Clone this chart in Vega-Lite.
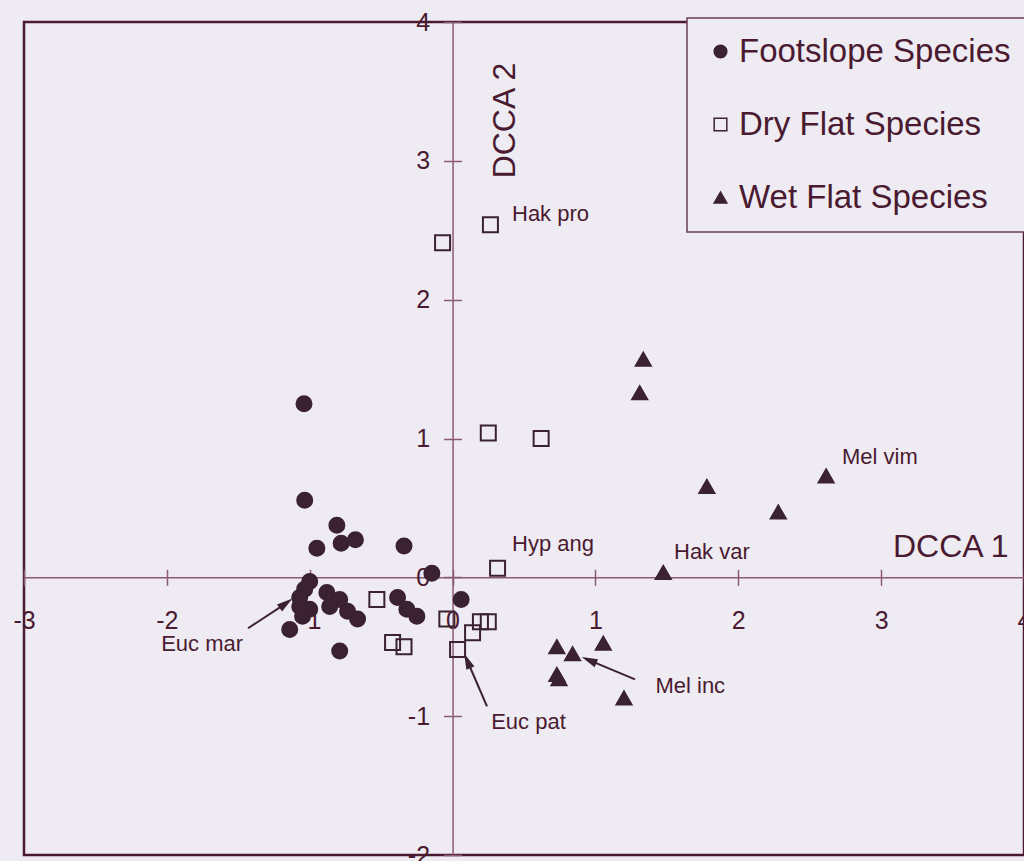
{
  "$schema": "https://vega.github.io/schema/vega-lite/v6.json",
  "width": 1000,
  "height": 833,
  "autosize": {"type": "none"},
  "padding": {"left": 24, "top": 22, "right": 0, "bottom": 6},
  "background": "#efebf3",
  "config": {
    "view": {"stroke": "#4a1a30", "strokeWidth": 2.5},
    "font": "Liberation Sans",
    "axis": {"grid": false, "title": null, "labelFlush": false, "labelOverlap": false, "tickColor": "#8a5a72", "tickWidth": 1.5, "domainColor": "#8a5a72", "domainWidth": 1.5, "labelColor": "#4a1a30", "labelFont": "Liberation Sans", "labelFontSize": 25, "labelExpr": "datum.value + ''"},
    "legend": {"orient": "none", "legendX": 663, "legendY": -4, "padding": 17, "fillColor": "#efebf3", "strokeColor": "#6b3d55", "strokeWidth": 1.5, "labelFontSize": 33, "labelColor": "#4a1a30", "labelFont": "Liberation Sans", "symbolSize": 160, "symbolStrokeWidth": 1.5, "rowPadding": 39, "labelOffset": 2, "labelLimit": 500}
  },
  "resolve": {"axis": {"x": "independent", "y": "independent"}},
  "layer": [
    {
      "data": {"values": [
        {"g": "Footslope Species", "x": -1.04, "y": 1.25},
        {"g": "Footslope Species", "x": -1.035, "y": 0.555},
        {"g": "Footslope Species", "x": -0.81, "y": 0.375},
        {"g": "Footslope Species", "x": -0.95, "y": 0.21},
        {"g": "Footslope Species", "x": -0.78, "y": 0.245},
        {"g": "Footslope Species", "x": -0.68, "y": 0.27},
        {"g": "Footslope Species", "x": -0.34, "y": 0.225},
        {"g": "Footslope Species", "x": -0.145, "y": 0.03},
        {"g": "Footslope Species", "x": -1.0, "y": -0.03},
        {"g": "Footslope Species", "x": -1.035, "y": -0.085},
        {"g": "Footslope Species", "x": -1.07, "y": -0.145},
        {"g": "Footslope Species", "x": -1.07, "y": -0.21},
        {"g": "Footslope Species", "x": -1.0, "y": -0.23},
        {"g": "Footslope Species", "x": -1.05, "y": -0.28},
        {"g": "Footslope Species", "x": -0.88, "y": -0.11},
        {"g": "Footslope Species", "x": -0.79, "y": -0.16},
        {"g": "Footslope Species", "x": -0.86, "y": -0.21},
        {"g": "Footslope Species", "x": -0.735, "y": -0.245},
        {"g": "Footslope Species", "x": -0.665, "y": -0.3},
        {"g": "Footslope Species", "x": -1.14, "y": -0.375},
        {"g": "Footslope Species", "x": -0.79, "y": -0.53},
        {"g": "Footslope Species", "x": -0.385, "y": -0.145},
        {"g": "Footslope Species", "x": -0.32, "y": -0.23},
        {"g": "Footslope Species", "x": -0.25, "y": -0.28},
        {"g": "Footslope Species", "x": 0.06, "y": -0.16},
        {"g": "Dry Flat Species", "x": 0.265, "y": 2.54},
        {"g": "Dry Flat Species", "x": -0.07, "y": 2.41},
        {"g": "Dry Flat Species", "x": 0.25, "y": 1.04},
        {"g": "Dry Flat Species", "x": 0.62, "y": 1.0},
        {"g": "Dry Flat Species", "x": 0.315, "y": 0.065},
        {"g": "Dry Flat Species", "x": -0.53, "y": -0.16},
        {"g": "Dry Flat Species", "x": -0.42, "y": -0.47},
        {"g": "Dry Flat Species", "x": -0.34, "y": -0.5},
        {"g": "Dry Flat Species", "x": -0.04, "y": -0.3},
        {"g": "Dry Flat Species", "x": 0.195, "y": -0.32},
        {"g": "Dry Flat Species", "x": 0.25, "y": -0.32},
        {"g": "Dry Flat Species", "x": 0.14, "y": -0.4},
        {"g": "Dry Flat Species", "x": 0.035, "y": -0.52},
        {"g": "Wet Flat Species", "x": 1.335, "y": 1.57},
        {"g": "Wet Flat Species", "x": 1.31, "y": 1.33},
        {"g": "Wet Flat Species", "x": 1.78, "y": 0.655},
        {"g": "Wet Flat Species", "x": 2.615, "y": 0.73},
        {"g": "Wet Flat Species", "x": 2.28, "y": 0.47},
        {"g": "Wet Flat Species", "x": 1.475, "y": 0.035},
        {"g": "Wet Flat Species", "x": 0.73, "y": -0.5},
        {"g": "Wet Flat Species", "x": 0.84, "y": -0.55},
        {"g": "Wet Flat Species", "x": 1.055, "y": -0.475},
        {"g": "Wet Flat Species", "x": 0.73, "y": -0.7},
        {"g": "Wet Flat Species", "x": 0.745, "y": -0.73},
        {"g": "Wet Flat Species", "x": 1.2, "y": -0.87}
      ]},
      "mark": {"type": "point", "size": 225, "strokeWidth": 2, "opacity": 1},
      "encoding": {
        "x": {"field": "x", "type": "quantitative", "scale": {"domain": [-3, 4], "nice": false, "zero": false},
              "axis": {"orient": "bottom", "offset": -277.67, "values": [-3, -2, -1, 0, 1, 2, 3, 4], "tickSize": 8, "labelPadding": 23}},
        "y": {"field": "y", "type": "quantitative", "scale": {"domain": [-2, 4], "nice": false, "zero": false},
              "axis": {"orient": "left", "offset": -428.57, "values": [-2, -1, 0, 1, 2, 3, 4], "tickSize": 9, "labelPadding": 14}},
        "shape": {"field": "g", "type": "nominal", "title": null,
                  "scale": {"domain": ["Footslope Species", "Dry Flat Species", "Wet Flat Species"], "range": ["circle", "square", "triangle-up"]}},
        "fill": {"field": "g", "type": "nominal", "title": null,
                 "scale": {"domain": ["Footslope Species", "Dry Flat Species", "Wet Flat Species"], "range": ["#3b2231", "transparent", "#3b2231"]}},
        "stroke": {"field": "g", "type": "nominal", "title": null,
                   "scale": {"domain": ["Footslope Species", "Dry Flat Species", "Wet Flat Species"], "range": ["#3b2231", "#3b2231", "#3b2231"]}}
      }
    },
    {
      "data": {"values": [
        {"t": "Hak pro", "x": 0.416, "y": 2.62},
        {"t": "Hyp ang", "x": 0.416, "y": 0.24},
        {"t": "Hak var", "x": 1.55, "y": 0.18},
        {"t": "Mel vim", "x": 2.726, "y": 0.87},
        {"t": "Mel inc", "x": 1.42, "y": -0.785},
        {"t": "Euc pat", "x": 0.27, "y": -1.04},
        {"t": "Euc mar", "x": -2.04, "y": -0.48}
      ]},
      "mark": {"type": "text", "align": "left", "baseline": "middle", "fontSize": 22, "color": "#4a1a30"},
      "encoding": {
        "x": {"field": "x", "type": "quantitative", "axis": {"orient": "top", "offset": -555.33, "values": [-3, -2, -1, 0, 1, 2, 3, 4], "tickSize": 8, "labels": false, "domain": false}},
        "y": {"field": "y", "type": "quantitative", "axis": {"orient": "right", "offset": -571.43, "values": [-2, -1, 0, 1, 2, 3, 4], "tickSize": 9, "labels": false, "domain": false}},
        "text": {"field": "t"}
      }
    },
    {
      "data": {"name": "arrows", "values": [
        {"a": "Euc mar", "x1": -1.432, "y1": -0.367, "x2": -1.166, "y2": -0.187},
        {"a": "Euc pat", "x1": 0.241, "y1": -0.929, "x2": 0.103, "y2": -0.601},
        {"a": "Mel inc", "x1": 1.277, "y1": -0.735, "x2": 0.955, "y2": -0.596}
      ]},
      "layer": [
        {
          "mark": {"type": "rule", "stroke": "#3b2231", "strokeWidth": 2},
          "encoding": {
            "x": {"field": "x1", "type": "quantitative", "axis": null},
            "y": {"field": "y1", "type": "quantitative", "axis": null},
            "x2": {"field": "x2"},
            "y2": {"field": "y2"}
          }
        },
        {
          "transform": [{"filter": "datum.a == 'Euc mar'"}],
          "mark": {"type": "point", "shape": "M0,-1L0.55,1L-0.55,1Z", "size": 256, "angle": 54, "filled": true, "color": "#3b2231", "opacity": 1},
          "encoding": {
            "x": {"field": "x2", "type": "quantitative", "axis": null},
            "y": {"field": "y2", "type": "quantitative", "axis": null}
          }
        },
        {
          "transform": [{"filter": "datum.a == 'Euc pat'"}],
          "mark": {"type": "point", "shape": "M0,-1L0.55,1L-0.55,1Z", "size": 256, "angle": -23, "filled": true, "color": "#3b2231", "opacity": 1},
          "encoding": {
            "x": {"field": "x2", "type": "quantitative", "axis": null},
            "y": {"field": "y2", "type": "quantitative", "axis": null}
          }
        },
        {
          "transform": [{"filter": "datum.a == 'Mel inc'"}],
          "mark": {"type": "point", "shape": "M0,-1L0.55,1L-0.55,1Z", "size": 256, "angle": -67, "filled": true, "color": "#3b2231", "opacity": 1},
          "encoding": {
            "x": {"field": "x2", "type": "quantitative", "axis": null},
            "y": {"field": "y2", "type": "quantitative", "axis": null}
          }
        }
      ]
    },
    {
      "data": {"values": [{"t": "DCCA 1", "x": 3.083, "y": 0.216}]},
      "mark": {"type": "text", "align": "left", "baseline": "middle", "fontSize": 32, "color": "#4a1a30"},
      "encoding": {
        "x": {"field": "x", "type": "quantitative", "axis": null},
        "y": {"field": "y", "type": "quantitative", "axis": null},
        "text": {"field": "t"}
      }
    },
    {
      "data": {"values": [{"t": "DCCA 2", "x": 0.367, "y": 3.29}]},
      "mark": {"type": "text", "align": "center", "baseline": "middle", "fontSize": 32, "angle": 270, "color": "#4a1a30"},
      "encoding": {
        "x": {"field": "x", "type": "quantitative", "axis": null},
        "y": {"field": "y", "type": "quantitative", "axis": null},
        "text": {"field": "t"}
      }
    }
  ]
}
